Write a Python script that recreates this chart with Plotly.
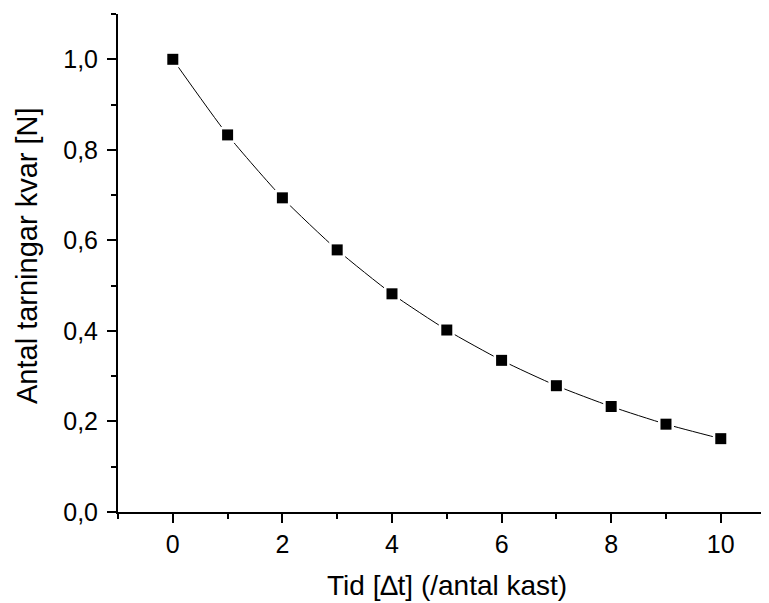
import plotly.graph_objects as go

# Data
time_steps = [0, 1, 2, 3, 4, 5, 6, 7, 8, 9, 10]
dice_left = [1.0, 0.833, 0.694, 0.579, 0.482, 0.402, 0.335, 0.279, 0.233, 0.194, 0.162]

x_title = "Tid [\u2206t] (/antal kast)"
y_title = "Antal tarningar kvar [N]"

FONT = "Liberation Sans, Arial, sans-serif"

fig = go.Figure()
fig.add_trace(go.Scatter(x=time_steps, y=dice_left, mode="lines",
                         line=dict(color="black", width=1, shape="spline", smoothing=0.6),
                         hoverinfo="skip", showlegend=False))
fig.add_trace(go.Scatter(x=time_steps, y=dice_left, mode="markers",
                         marker=dict(symbol="square", size=16, color="white", line=dict(width=0)),
                         hoverinfo="skip", showlegend=False))
fig.add_trace(go.Scatter(x=time_steps, y=dice_left, mode="markers",
                         marker=dict(symbol="square", size=11, color="black", line=dict(width=0)),
                         showlegend=False))

fig.update_layout(
    width=769, height=603,
    margin=dict(l=110, r=8, t=6, b=99, autoexpand=False),
    paper_bgcolor="white", plot_bgcolor="white",
    separators=",.",
    font=dict(family=FONT, color="black"),
    xaxis=dict(
        range=[-1, 10.88], showgrid=False, zeroline=False, automargin=False,
        showline=True, linecolor="black", linewidth=2,
        ticks="outside", ticklen=9, tickwidth=2, tickcolor="black",
        tick0=0, dtick=2,
        minor=dict(ticks="outside", dtick=1, tick0=0, ticklen=5, tickwidth=2, tickcolor="black"),
        tickfont=dict(size=25, family=FONT),
    ),
    yaxis=dict(
        range=[0, 1.1001], showgrid=False, zeroline=False, automargin=False,
        showline=True, linecolor="black", linewidth=2,
        ticks="outside", ticklen=9, tickwidth=2, tickcolor="black",
        tick0=0, dtick=0.2, tickformat=".1f",
        minor=dict(ticks="outside", dtick=0.1, tick0=0, ticklen=5, tickwidth=2, tickcolor="black"),
        tickfont=dict(size=25, family=FONT),
        ticklabelstandoff=4,
    ),
    annotations=[
        dict(text=x_title, xref="paper", yref="paper", x=0.506, y=-0.148,
             xanchor="center", yanchor="middle", showarrow=False,
             font=dict(size=28, family=FONT, color="black")),
        dict(text=y_title, xref="paper", yref="paper", x=-0.1398, y=0.516,
             xanchor="center", yanchor="middle", textangle=-90, showarrow=False,
             font=dict(size=29, family=FONT, color="black")),
    ],
)

fig.write_html("out.html")
